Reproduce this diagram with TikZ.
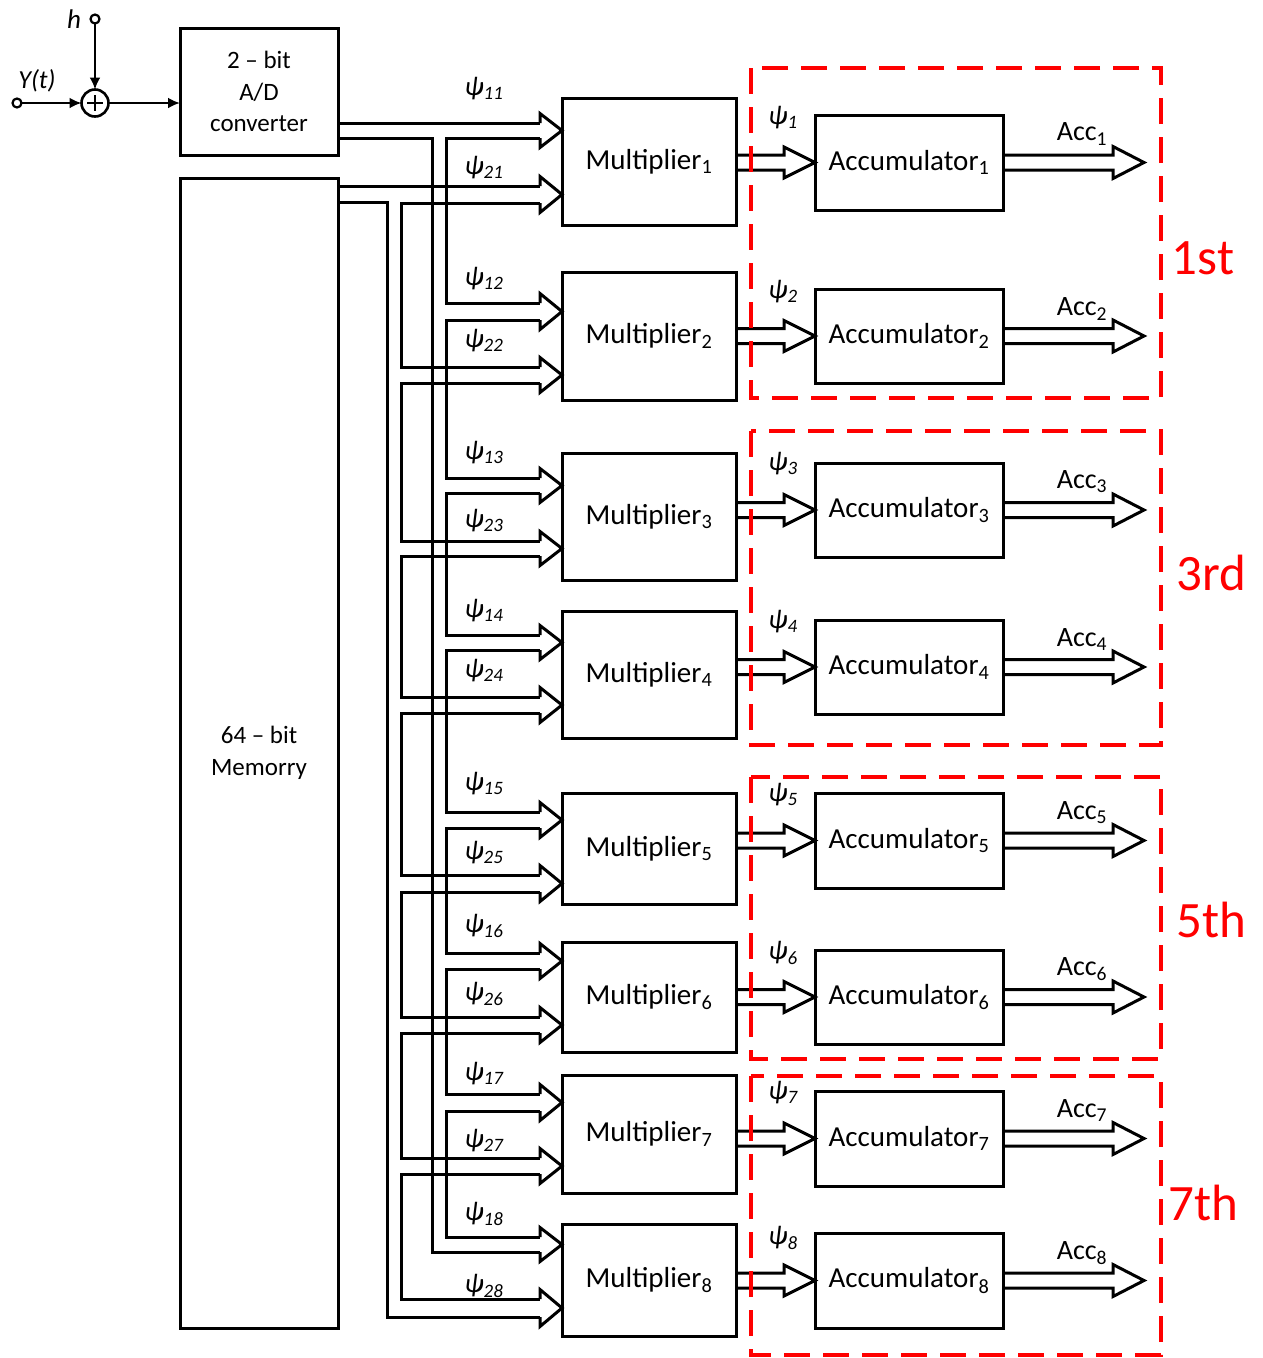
\documentclass[tikz,border=0pt]{standalone}
\usepackage{fontspec}
\setmainfont{Carlito}
\usetikzlibrary{calc,arrows.meta}
\tikzset{
  wire/.style={line width=3pt, line join=miter, draw=black},
  blk/.style={draw, line width=3pt, inner sep=0pt, outer sep=0pt, align=center},
  thinl/.style={line width=2.6pt},
  tip/.style={-{Latex[length=12pt,width=11pt]}},
  term/.style={circle, draw, line width=2.2pt, minimum size=9pt, inner sep=0pt, outer sep=0pt},
  grp/.style={draw=red, line width=3.2pt, dash pattern=on 26pt off 13pt},
  big/.style={font=\fontsize{29}{34}\selectfont},
  mid/.style={font=\fontsize{25}{31.5}\selectfont},
  psil/.style={font=\fontsize{27}{30}\selectfont\itshape, inner sep=0pt},
  accl/.style={font=\fontsize{28}{30}\selectfont, inner sep=0pt},
  rlab/.style={font=\fontsize{51}{55}\selectfont, text=red, inner sep=0pt}
}
\newcommand\blkbox[7][big]{\node[blk,#1, minimum width={(#5-#3)*1pt}, minimum height={(#6-#4)*1pt}] (#2) at ({(#3+#5)/2},{(#4+#6)/2}) {#7};}
\newcommand\fatarrow[4]{\draw[wire] ($(#1)+(0,-7.5)$) -- ($(#2)+(-#3,-7.5)$) -- ($(#2)+(-#3,-7.5-#4)$) -- (#2) -- ($(#2)+(-#3,7.5+#4)$) -- ($(#2)+(-#3,7.5)$) -- ($(#1)+(0,7.5)$);}
\begin{document}
\begin{tikzpicture}[x=1pt,y=-1pt]
\useasboundingbox (0,0) rectangle (1262,1358);
% blocks
\blkbox[mid]{adc}{180}{28}{338}{155}{2 – bit\\A/D\\converter}
\blkbox[mid]{mem}{180}{178}{338}{1328}{64 – bit\\Memorry}
\blkbox{m1}{562}{98}{736}{225}{Multiplier\textsubscript{1}}
\blkbox{m2}{562}{272}{736}{400}{Multiplier\textsubscript{2}}
\blkbox{m3}{562}{453}{736}{580}{Multiplier\textsubscript{3}}
\blkbox{m4}{562}{611}{736}{738}{Multiplier\textsubscript{4}}
\blkbox{m5}{562}{793}{736}{904}{Multiplier\textsubscript{5}}
\blkbox{m6}{562}{942}{736}{1052}{Multiplier\textsubscript{6}}
\blkbox{m7}{562}{1075}{736}{1193}{Multiplier\textsubscript{7}}
\blkbox{m8}{562}{1224}{736}{1336}{Multiplier\textsubscript{8}}
\blkbox{a1}{815}{115}{1003}{210}{Accumulator\textsubscript{1}}
\blkbox{a2}{815}{289}{1003}{383}{Accumulator\textsubscript{2}}
\blkbox{a3}{815}{463}{1003}{557}{Accumulator\textsubscript{3}}
\blkbox{a4}{815}{620}{1003}{714}{Accumulator\textsubscript{4}}
\blkbox{a5}{815}{793}{1003}{888}{Accumulator\textsubscript{5}}
\blkbox{a6}{815}{950}{1003}{1044}{Accumulator\textsubscript{6}}
\blkbox{a7}{815}{1091}{1003}{1186}{Accumulator\textsubscript{7}}
\blkbox{a8}{815}{1233}{1003}{1328}{Accumulator\textsubscript{8}}
% input section
\node[term] (hin) at (95,19) {};
\node[term] (yin) at (17,103) {};
\node[circle, draw, line width=2.6pt, minimum size=27pt, inner sep=0pt, outer sep=0pt] (sum) at (95,103) {};
\draw[thinl] ($(sum.center)+(-8,0)$) -- ($(sum.center)+(8,0)$);
\draw[thinl] ($(sum.center)+(0,-8)$) -- ($(sum.center)+(0,8)$);
\draw[thinl,tip] (hin) -- (sum);
\draw[thinl,tip] (yin) -- (sum);
\draw[thinl,tip] (sum) -- (adc.west |- sum);
\node[font=\fontsize{27}{28}\selectfont\itshape, inner sep=0pt] (hl) at (74,19) {h};
\node[font=\fontsize{26}{28}\selectfont\itshape, inner sep=0pt] (yl) at (37,81) {Y(t)};
% ADC bus
\draw[wire] (adc.east |- 0,123) -- (540,123);
\draw[wire] (adc.east |- 0,138) -- (432,138) -- (432,1252) -- (540,1252);
\foreach \a/\b in {138/303, 320/478, 493/635, 650/812, 828/953, 969/1094, 1111/1237}
  \draw[wire] (540,\a) -- (446,\a) -- (446,\b) -- (540,\b);
% memory bus
\draw[wire] (mem.east |- 0,186) -- (540,186);
\draw[wire] (mem.east |- 0,202) -- (387,202) -- (387,1317) -- (540,1317);
\foreach \a/\b in {203/367, 383/541, 556/697, 713/875, 892/1017, 1033/1158, 1174/1299}
  \draw[wire] (540,\a) -- (401,\a) -- (401,\b) -- (540,\b);
% input arrow heads
\foreach \m/\u/\l/\c in {m1/123/138/130.5, m1/186/203/194.5, m2/303/320/311.5, m2/367/383/375,
  m3/478/493/485.5, m3/541/556/548.5, m4/635/650/642.5, m4/697/713/705,
  m5/812/828/820, m5/875/892/883.5, m6/953/969/961, m6/1017/1033/1025,
  m7/1094/1111/1102.5, m7/1158/1174/1166, m8/1237/1252/1244.5, m8/1299/1317/1308}
  \draw[wire] (540,\u) -- (540,\u-9.5) -- (\m.west |- 0,\c) -- (540,\l+9.5) -- (540,\l);
% multiplier -> accumulator -> output
\foreach \i in {1,...,8}{
  \fatarrow{m\i.east |- a\i.west}{a\i.west}{31}{8}
  \coordinate (o\i) at ($(a\i.east)+(141,0)$);
  \fatarrow{a\i.east}{o\i}{31}{8.5}
}
% psi labels (multiplier inputs)
\foreach \t/\x/\y in {11/484/89, 21/484/168, 12/484/279, 22/484/341, 13/484/453, 23/484/521,
  14/484/611, 24/484/671, 15/484/784, 25/484/853, 16/484/926, 26/484/994,
  17/484/1074, 27/484/1141, 18/484/1214, 28/484/1286}
  \node[psil] (p\t) at (\x,\y) {ψ\textsubscript{\t}};
% psi labels (accumulator inputs)
\foreach \t/\y in {1/118, 2/292, 3/464, 4/622, 5/795, 6/953, 7/1093, 8/1238}
  \node[psil] (q\t) at (783,\y) {ψ\textsubscript{\t}};
% Acc labels
\foreach \t/\y in {1/134, 2/309, 3/482, 4/640, 5/813, 6/969, 7/1111, 8/1253}
  \node[accl] (c\t) at (1082,\y) {Acc\textsubscript{\t}};
% red groups
\draw[grp] (751,68) rectangle (1161,398);
\draw[grp] (751,431) rectangle (1161,745);
\draw[grp] (751,777) rectangle (1161,1059);
\draw[grp] (751,1076) rectangle (1161,1355);
\node[rlab] (g1) at (1203,258) {1st};
\node[rlab] (g3) at (1211,573) {3rd};
\node[rlab] (g5) at (1211,920) {5th};
\node[rlab] (g7) at (1203,1203) {7th};
\end{tikzpicture}
\end{document}
